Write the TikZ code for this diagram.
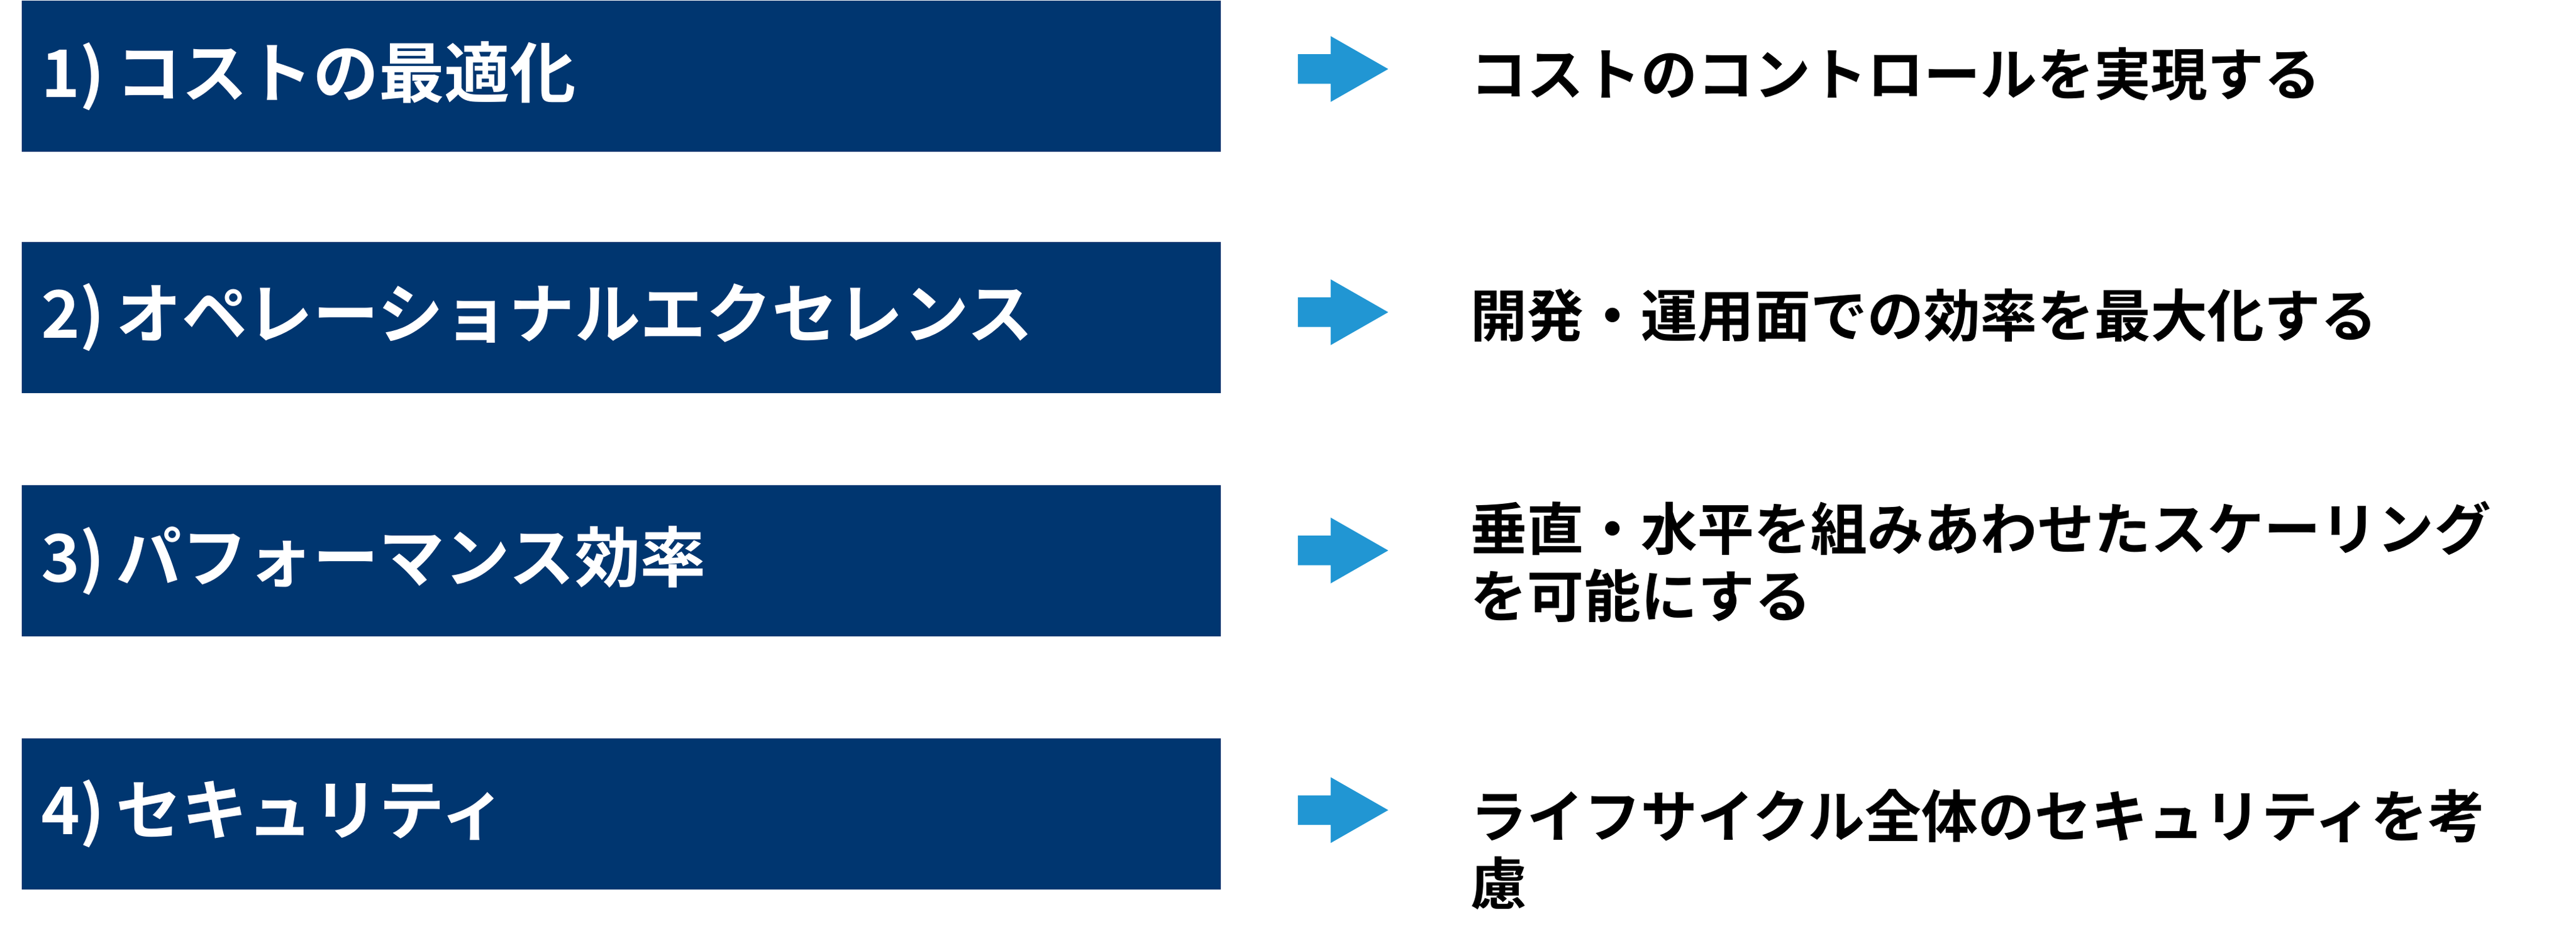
\documentclass[tikz,border=0pt]{standalone}
\usepackage{fontspec}
\setmainfont{Noto Sans CJK JP}[BoldFont={Noto Sans CJK JP Bold}]
\usepackage{xcolor}
\definecolor{boxblue}{RGB}{0,54,112}
\definecolor{arrowblue}{RGB}{33,150,211}
\tikzset{
  itembox/.style={fill=boxblue, draw=none, minimum width=730pt, minimum height=92pt, anchor=north west, inner sep=0pt},
  itemtxt/.style={anchor=west, text=white, inner sep=0pt, font=\fontsize{40}{48}\selectfont\bfseries},
  desctxt/.style={anchor=west, inner sep=0pt, align=left, font=\fontsize{34.5}{41}\selectfont\bfseries},
}
\newcommand{\blockarrow}[1]{%
  \fill[arrowblue] ($(#1)+(0,-9)$) -- ++(20,0) -- ++(0,-11) -- ++(35,20) -- ++(-35,20) -- ++(0,-11) -- ++(-20,0) -- cycle;}
\usetikzlibrary{calc}
\begin{document}
\begin{tikzpicture}[x=1pt,y=1pt,yscale=-1,xscale=1]
\useasboundingbox (0,0) rectangle (1568,576.6);

% Boxes on the left
\node[itembox] (box1) at (13,0) {};
\node[itembox] (box2) at (13,147) {};
\node[itembox] (box3) at (13,295) {};
\node[itembox] (box4) at (13,449) {};

% Box texts
\node[itemtxt] (item1) at ([xshift=12pt]box1.west) {1)\,コストの最適化};
\node[itemtxt] (item2) at ([xshift=12pt]box2.west) {2)\,オペレーショナルエクセレンス};
\node[itemtxt] (item3) at ([xshift=12pt]box3.west) {3)\,パフォーマンス効率};
\node[itemtxt] (item4) at ([xshift=12pt]box4.west) {4)\,セキュリティ};

% Arrows
\coordinate (ar1) at (790,42);
\coordinate (ar2) at (790,190);
\coordinate (ar3) at (790,335);
\coordinate (ar4) at (790,493);
\blockarrow{ar1}
\blockarrow{ar2}
\blockarrow{ar3}
\blockarrow{ar4}

% Descriptions
\node[desctxt] (desc1) at (895,45) {コストのコントロールを実現する};
\node[desctxt] (desc2) at (895,192) {開発・運用面での効率を最大化する};
\node[desctxt] (desc3) at (895,342) {垂直・水平を組みあわせたスケーリング\\を可能にする};
\node[desctxt] (desc4) at (895,517) {ライフサイクル全体のセキュリティを考\\慮};

\end{tikzpicture}
\end{document}
